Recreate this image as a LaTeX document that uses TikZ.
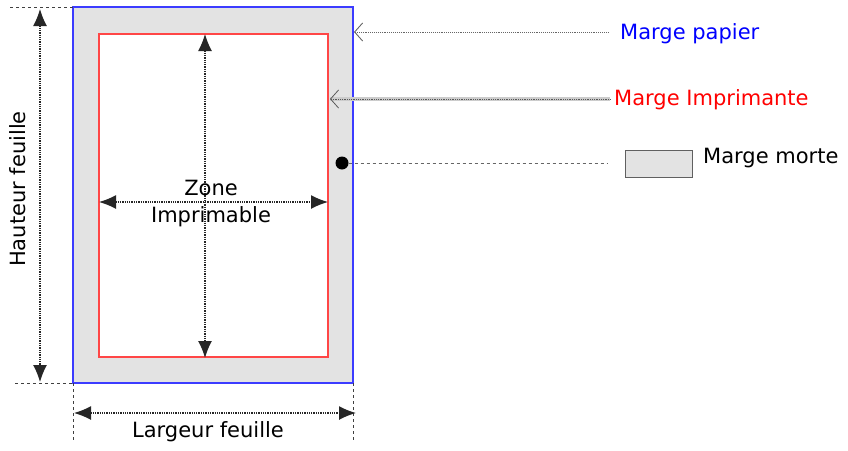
\documentclass[tikz,border=0pt]{standalone}
\usepackage{fontspec}
\setmainfont{DejaVu Sans}
\usetikzlibrary{arrows.meta}
\definecolor{pblue}{RGB}{60,60,255}
\definecolor{pred}{RGB}{255,70,70}
\begin{document}
\begin{tikzpicture}[x=1pt,y=-1pt,
  lbl/.style={font=\fontsize{21}{24}\selectfont, inner sep=0pt},
  dim/.style={densely dotted, line width=1.3pt, black!85, {Latex[length=17pt,width=14pt]}-{Latex[length=17pt,width=14pt]}},
  ext/.style={dashed, line width=0.8pt, black!75},
  callout/.style={densely dotted, line width=0.9pt, gray!80!black, {Straight Barb[length=8pt,width=18pt]}-},
  marge/.style={fill=gray!22}
]
\useasboundingbox (0,0) rectangle (848,450);
% paper
\node[marge, draw=pblue, line width=1.6pt, outer sep=0pt, minimum width=280pt, minimum height=376pt, anchor=north west, inner sep=0pt] (paper) at (73,7) {};
\node[draw=pred, line width=1.6pt, fill=white, minimum width=229pt, minimum height=323pt, anchor=north west, inner sep=0pt] (zone) at (98,33) {};
% height dimension
\coordinate (ht0) at (10,7);
\coordinate (hb0) at (15,383);
\draw[ext] (ht0 |- paper.north west) -- (paper.north west);
\draw[ext] (hb0 |- paper.south west) -- (paper.south west);
\coordinate (ha) at (40,9);
\coordinate (hb) at (40,382);
\draw[dim] (ha) -- (hb);
\node[lbl, rotate=90] (hauteur) at (18,189) {Hauteur feuille};
% width dimension
\coordinate (wl) at (75,440);
\coordinate (wr) at (353,440);
\draw[ext] (paper.south west) -- (paper.south west |- wl);
\draw[ext] (paper.south east) -- (paper.south east |- wr);
\coordinate (wa) at (74,413);
\coordinate (wb) at (356,413);
\draw[dim] (wa) -- (wb);
\node[lbl] (largeur) at (208,432) {Largeur feuille};
% inner dims
\coordinate (za) at (205,34);
\coordinate (zb) at (205,358);
\draw[dim] (za) -- (zb);
\coordinate (zl) at (99,202);
\coordinate (zr) at (328,202);
\draw[dim] (zl) -- (zr);
\node[lbl, align=center, font=\fontsize{21}{27}\selectfont] (zonetxt) at (211,204) {Zone\\Imprimable};
% callouts
\node[lbl, anchor=west, blue] (papier) at (620,34) {Marge papier};
\node[lbl, anchor=west, red] (impr) at (614,100) {Marge Imprimante};
\coordinate (pa) at (354,32);
\coordinate (pe) at (608,32);
\draw[callout] (pa) -- (pe);
\coordinate (ia) at (330,99);
\coordinate (ie) at (610,99);
\draw[line width=4pt, gray!40] (ia) -- (ie);
\draw[densely dotted, line width=0.8pt, gray!70!black, {Straight Barb[length=8pt,width=18pt]}-] (ia) -- (ie);
\node[circle, fill=black, minimum size=13pt, inner sep=0pt] (dot) at (342,163) {};
\node[marge, draw=gray!75!black, line width=1pt, minimum width=67pt, minimum height=27pt, anchor=west, inner sep=0pt] (legend) at (625,164) {};
\node[lbl, anchor=west] (morte) at (703,158) {Marge morte};
\coordinate (me) at (608,163);
\draw[dashed, line width=0.8pt, gray!80!black] (dot) -- (me);
\end{tikzpicture}
\end{document}
